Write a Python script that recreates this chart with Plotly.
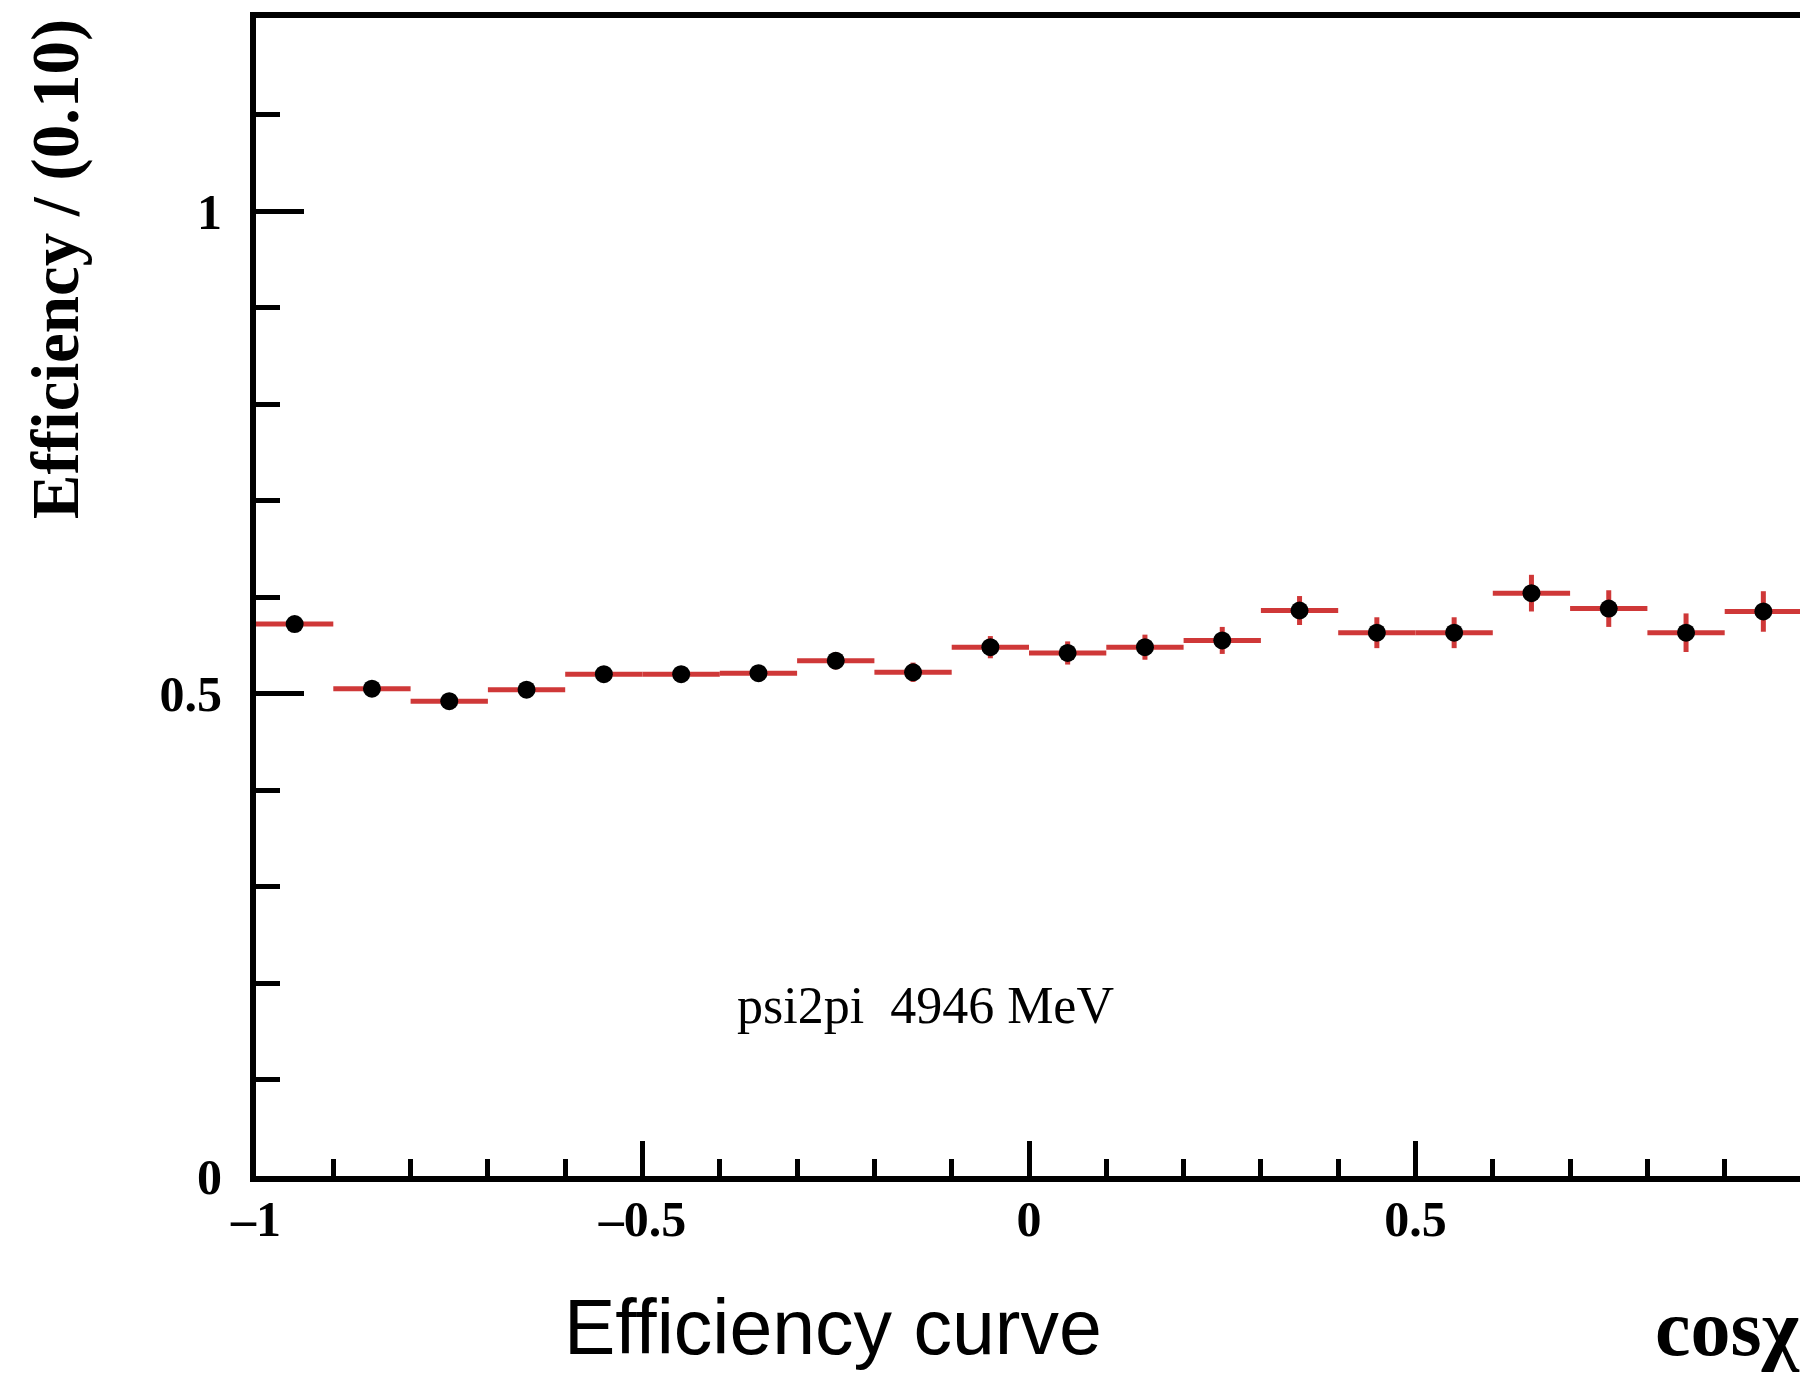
import plotly.graph_objects as go

bin_centers = [-0.95, -0.85, -0.75, -0.65, -0.55, -0.45, -0.35, -0.25, -0.15, -0.05,
               0.05, 0.15, 0.25, 0.35, 0.45, 0.55, 0.65, 0.75, 0.85, 0.95]
efficiency = [0.572, 0.505, 0.492, 0.504, 0.520, 0.520, 0.521, 0.534, 0.522, 0.548,
              0.542, 0.548, 0.555, 0.586, 0.563, 0.563, 0.604, 0.588, 0.563, 0.585]
eff_err = [0.006, 0.006, 0.006, 0.006, 0.007, 0.007, 0.008, 0.009, 0.010, 0.0115,
           0.012, 0.013, 0.014, 0.015, 0.016, 0.016, 0.019, 0.019, 0.020, 0.021]
bin_half_width = [0.05] * len(bin_centers)

x_major = [-1, -0.5, 0, 0.5, 1]
x_major_text = ["–1", "–0.5", "0", "0.5", "1"]
y_major = [0, 0.5, 1]
y_major_text = ["0", "0.5", "1"]

RED = "#cf3838"
SERIF = "Liberation Serif"

# page has an 8px body margin; compensate so the plot lands where the reference has it
W, H = 1800, 1367
L, T, B = 248, 10, 199
PW = W - L
PH = H - T - B

fig = go.Figure()
fig.add_trace(go.Scatter(
    x=bin_centers, y=efficiency, mode="markers",
    marker=dict(color="black", size=18, line=dict(width=0)),
    error_x=dict(type="data", array=bin_half_width, color=RED, thickness=5, width=0),
    error_y=dict(type="data", array=eff_err, color=RED, thickness=5, width=0),
    showlegend=False, cliponaxis=False,
))

axis_common = dict(
    showgrid=False, zeroline=False, showline=True, linecolor="black", linewidth=6,
    mirror=True, ticks="inside", tickcolor="black", tickwidth=5,
)

fig.update_xaxes(
    range=[-1, 1], tickvals=x_major, ticktext=x_major_text, ticklen=35,
    tickfont=dict(family=SERIF, size=50, color="black", weight="bold"),
    ticklabelstandoff=-6,
    minor=dict(dtick=0.1, tick0=-1, ticklen=17, tickwidth=5, ticks="inside", tickcolor="black"),
    **axis_common,
)
fig.update_yaxes(
    range=[0, 1.2], tickvals=y_major, ticktext=y_major_text, ticklen=48,
    tickfont=dict(family=SERIF, size=50, color="black", weight="bold"),
    ticklabelstandoff=18,
    minor=dict(dtick=0.1, tick0=0, ticklen=24, tickwidth=5, ticks="inside", tickcolor="black"),
    **axis_common,
)

def px_x(px):  # page pixel -> paper x
    return (px - 8 - L) / PW

def px_y(py):  # page pixel -> paper y
    return (8 + T + PH - py) / PH

fig.add_annotation(
    text="Efficiency / (0.10)", textangle=-90, xref="paper", yref="paper",
    x=px_x(55), y=px_y(16), xanchor="center", yanchor="top", showarrow=False,
    font=dict(family=SERIF, size=67, color="black", weight="bold"),
)
fig.add_annotation(
    text="Efficiency curve", xref="paper", yref="paper",
    x=px_x(835), y=px_y(1327), xanchor="center", yanchor="middle", showarrow=False,
    font=dict(family="Liberation Sans", size=77, color="black"),
)
fig.add_annotation(
    text="cosχ", xref="paper", yref="paper",
    x=1.0, y=px_y(1328), xanchor="right", yanchor="middle", showarrow=False,
    font=dict(family=SERIF, size=80, color="black", weight="bold"),
)
fig.add_annotation(
    text="psi2pi\u00a0 4946 MeV", xref="x", yref="y",
    x=-0.38, y=0.177, xanchor="left", yanchor="middle", showarrow=False,
    font=dict(family=SERIF, size=52, color="black"),
)

fig.update_layout(
    width=W, height=H,
    margin=dict(l=L, r=0, t=T, b=B),
    paper_bgcolor="white", plot_bgcolor="white",
)
fig.write_html("out.html")
